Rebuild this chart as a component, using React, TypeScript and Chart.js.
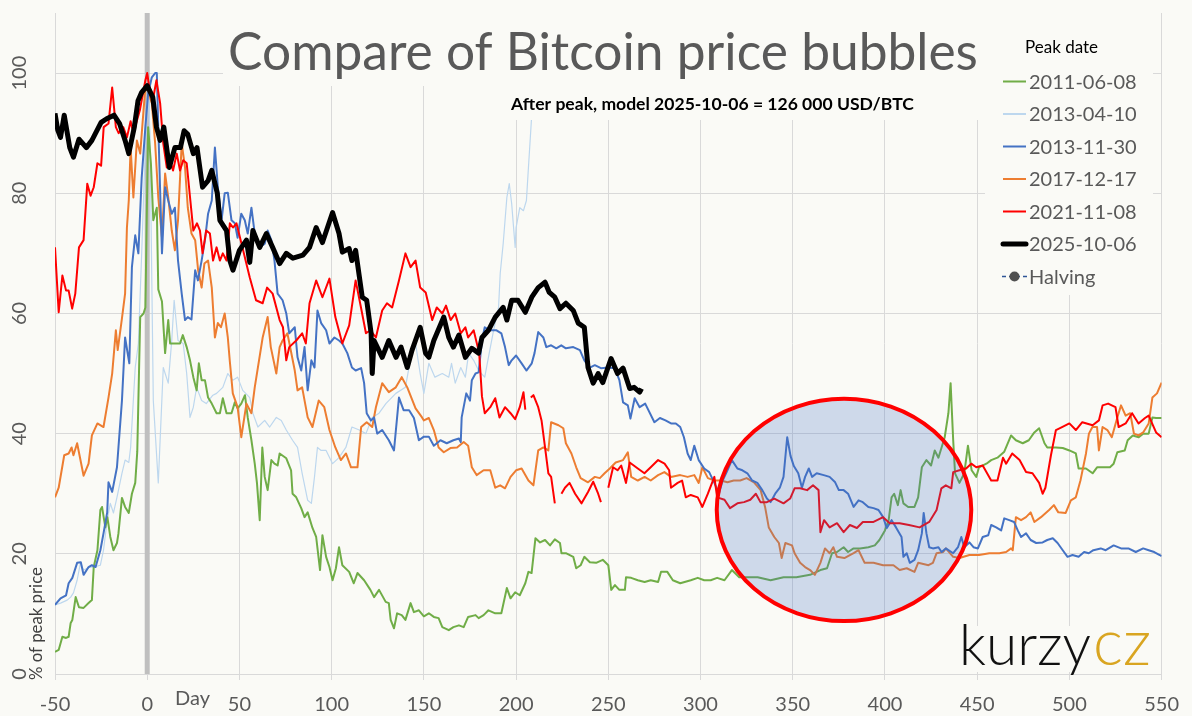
import React, { useEffect, useRef } from 'react';
import { Chart, registerables } from 'chart.js';

Chart.register(...registerables);

type Pt = [number, number | null];

// Peak dates of the bubbles, in legend order
const peakDates = ['2011-06-08', '2013-04-10', '2013-11-30', '2017-12-17', '2021-11-08', '2025-10-06'];
const seriesColors = ['#70ad47', '#bdd7ee', '#4472c4', '#ed7d31', '#ff0000', '#000000'];
const seriesWidths = [2, 1.2, 2, 2, 2, 5];
const seriesOrder = [4, 5, 2, 3, 1, 0];

const xTicks = [-50, 0, 50, 100, 150, 200, 250, 300, 350, 400, 450, 500, 550];
const yTicks = [0, 20, 40, 60, 80, 100];

// grey bar at the day of the peak
const peakMarker: Pt[] = [[0, 0], [0, 110]];

// highlighted zone: [day, % of peak], radius in days, radius in %
const zoneCenter = [377.8, 27.3];
const zoneRadius = [69, 18.5];

const bubble2011: Pt[] = [
  [-50, 3.7], [-48, 4], [-46, 6.2], [-44, 6], [-42.6, 6.2], [-41.5, 8.5], [-40.6, 9], [-38.8, 12.8], [-37, 11.1], [-34.5, 11],
  [-31.8, 11.8], [-30, 12.3], [-29, 17.8], [-27, 20.6], [-25.4, 27.3], [-24.5, 27.8], [-22.7, 24.4], [-21.6, 26.1], [-20, 22.8],
  [-18.3, 20.6], [-16.4, 21.8], [-15.6, 23.4], [-13.7, 29.3], [-12, 27.8], [-10, 26.8], [-8.3, 30], [-6.5, 31.8], [-5.4, 37],
  [-3.8, 59.4], [-2, 60], [-1, 61], [0.5, 91], [2, 85], [3.3, 75.5], [5.2, 77.6], [6, 64], [8, 62], [9.7, 53.4], [11.4, 58.9],
  [12.4, 55], [17.8, 55], [19.3, 56.4], [21.4, 54.4], [23.2, 52.2], [25, 49.4], [26.8, 47.2], [28, 51.7], [29.5, 48.9],
  [31.3, 48.9], [33, 46], [35, 45], [37.6, 43.4], [39.4, 43.4], [41, 45.9], [43, 43.4], [45.7, 43.4], [47.5, 45.2], [49, 44.2],
  [51, 45], [53, 46.4], [54.5, 42.7], [56.5, 38.9], [58.3, 35], [59.5, 31.8], [61, 25.6], [62.4, 37.7], [63.7, 32.8],
  [65.3, 30.6], [67.3, 35.6], [69, 35], [70.7, 34.7], [71.8, 36.7], [75.4, 35.9], [78, 33.9], [78.8, 30], [80.8, 29.4],
  [83.5, 27.6], [85.3, 26.1], [87, 26.9], [89.6, 24.3], [91.6, 22.8], [93.7, 17.3], [95, 23.1], [97, 19.5], [98.8, 17.8],
  [100.5, 15.6], [102.3, 17.6], [104, 21.1], [105.8, 18.1], [109.5, 17], [112, 15.1], [114, 16.8], [117.6, 15.6], [121, 14],
  [123, 12.8], [125.7, 14], [129.3, 12], [131, 11.8], [132, 9], [133.8, 7.6], [135.5, 10.1], [138, 9.8], [140, 9],
  [142.8, 11.8], [144.6, 10.3], [147.3, 10.6], [150, 9.6], [152.7, 10.1], [155.4, 9.5], [158, 9.3], [160, 7.8], [163.5, 7.3],
  [166, 7.8], [169, 8.1], [171.6, 7.8], [174, 9.5], [178, 9.8], [179.7, 9.3], [182.4, 9.8], [185, 10.6], [188.7, 10.1],
  [192, 10.1], [195, 14.3], [197, 12.6], [199.5, 13.6], [202, 13.1], [205, 15.1], [206.7, 17], [208.4, 16.8], [210.5, 22.6],
  [213, 21.9], [215.7, 22.3], [218.4, 21.4], [221, 22.4], [223.8, 21.8], [224.6, 20.1], [227, 20.1], [231, 19.5],
  [232.6, 17.6], [235, 18.1], [237, 19.5], [240, 18.6], [243.4, 18.5], [247, 19], [250, 18.1], [251.6, 14], [253.6, 14.8],
  [256, 14], [259, 14], [259.6, 16.1], [262.4, 16], [266, 15.6], [269.7, 15.3], [273, 15.6], [277, 15.3], [278.6, 17],
  [282, 17], [285, 15.6], [289, 15.1], [294.7, 15.6], [298.5, 16], [302, 15.6], [305.5, 15.6], [309, 16], [313, 15.6],
  [317, 17.3], [321, 16.1], [325, 16.1], [331, 16.1], [338, 15.6], [345, 16.1], [352, 16.1], [359.4, 16.5], [365, 17.3],
  [368.6, 17.6], [371.3, 20.1], [374, 20.3], [377.6, 21.1], [380, 20.3], [383, 20.9], [386.5, 20.9], [391, 21.1],
  [394.5, 21.4], [397, 22.3], [400, 23.9], [402, 25.6], [403.6, 29.4], [405, 30], [407, 28.1], [408.5, 30.6], [410, 28.4],
  [412.6, 27.8], [416, 27.8], [418, 29.4], [420, 34.4], [422.5, 35.6], [425, 34.7], [427, 37.2], [429, 36], [430.7, 37.7],
  [432.4, 39.4], [434.4, 43.4], [435.6, 48.4], [437, 38.9], [438, 33.4], [440.4, 31.8], [443, 33.4], [445, 38], [447, 33.9],
  [449.5, 32.8], [451, 34.4], [455, 35], [457.6, 35.6], [461, 36], [464.7, 37], [468.4, 39.7], [471, 38.9], [474.7, 38.4],
  [478, 38.9], [481, 40.2], [483.6, 40.9], [486.5, 38.4], [488, 37.7], [492.7, 37.7], [496.4, 37.6], [500, 37.2],
  [503.5, 36.7], [505, 34.2], [509, 34.2], [512.6, 33.4], [515, 34.4], [518.6, 34.4], [522, 34.4], [524, 35], [526, 36.9],
  [530, 37.2], [531.6, 38.9], [534.4, 39.7], [537.6, 39.4], [540, 40], [543, 40], [545, 42.7], [547, 42.6], [550, 42.6],
];

const bubble2013a: Pt[] = [
  [-50, 11.5], [-47, 11.8], [-43.4, 12.3], [-41.5, 12.8], [-40, 13.5], [-38, 15.6], [-36.2, 18.5], [-34.5, 17.3],
  [-30.8, 17.8], [-29, 17.8], [-25.4, 18.1], [-23.7, 20.6], [-21.7, 25.6], [-20, 28.4], [-18.3, 26.8], [-16.4, 29.4],
  [-13.7, 33.4], [-12, 35.6], [-10, 35.2], [-9, 37.7], [-6.5, 51], [-4.8, 55], [-3, 70], [-1, 88], [0.5, 97], [1.5, 90],
  [3.3, 45.5], [6, 31.8], [8.7, 51], [11.4, 48.4], [13.3, 55.5], [14.6, 62.2], [16.7, 55.5], [19.5, 55], [21.4, 50],
  [23.2, 42.7], [25, 44.4], [26.8, 47.7], [29.5, 45.5], [32, 45], [35.6, 46.4], [37.6, 46.7], [41, 47.7], [43.7, 50],
  [46.4, 48.9], [49, 49.4], [51.8, 47.2], [55.6, 46], [57.3, 43.4], [60, 41.1], [63.7, 42.2], [66.4, 41.1], [70, 42.7],
  [72.7, 42.2], [75.4, 40.6], [78.8, 38.9], [81.5, 37.7], [84, 33.4], [87, 28.9], [89, 28.4], [90.7, 32.8], [92.3, 37.7],
  [94.3, 37.2], [97, 37.2], [100.5, 35], [104, 36], [107.7, 37.7], [111, 41.1], [115, 40.6], [118.6, 40], [122, 42.7],
  [125.7, 43.4], [129.4, 45], [134.8, 46.7], [140, 47.7], [143.6, 53.9], [145.5, 55], [148, 50], [150, 46.7], [152.7, 51.7],
  [156, 49.4], [160, 50], [163.5, 49.4], [165, 51.7], [167, 48.4], [170, 51], [172.5, 49.4], [174.3, 53.4], [177, 52.2],
  [179.7, 50.5], [183, 49.4], [185, 52.7], [187.8, 57.2], [190.5, 61], [191.4, 66.7], [193, 71.6], [195, 79.3],
  [196.3, 81.6], [197.6, 78.3], [199.5, 71], [200, 74.3], [202, 77.6], [204, 77.1], [205.6, 78.8], [206.7, 84.3],
  [208.3, 92.1], [210, 104], [212, 115],
];

const bubble2013b: Pt[] = [
  [-50, 11.5], [-47, 12.6], [-44, 13.1], [-42.6, 15.1], [-40.6, 16], [-38, 18.5], [-36, 18.6], [-34.5, 16.5], [-31.8, 17.8],
  [-30, 18.1], [-28, 17.8], [-25.4, 20.6], [-23.7, 23.4], [-21.7, 26.9], [-21, 31.9], [-19, 30.3], [-16.4, 34.4],
  [-15.6, 37.7], [-13.7, 45.5], [-12, 56], [-9.7, 51.7], [-8.3, 67.7], [-6.5, 73], [-4.8, 70], [-3, 82.6], [-1, 91],
  [0.5, 96.6], [2.5, 99.3], [4.3, 100], [5.2, 100], [6, 91], [8, 70], [9.7, 81], [11.4, 78.8], [13.3, 76.6], [15, 77.6],
  [16.7, 68.8], [18.7, 63.3], [20.5, 58.9], [22, 59.4], [24, 59], [26, 67.2], [27.5, 65.5], [29.5, 68.8], [31.3, 72.2],
  [33, 76.6], [35, 78.8], [36.7, 87.6], [38.3, 81], [40.3, 75.5], [42, 80], [43.7, 80.1], [45.7, 75.5], [47.5, 75],
  [49, 72.6], [51, 76.6], [52.9, 75.5], [54.5, 73.3], [56.5, 77.6], [58.3, 73.3], [61, 71], [63.7, 71.6], [65.3, 73.8],
  [67.3, 72.2], [69, 68.8], [70.7, 63.3], [73.4, 62.2], [75.4, 60], [77, 56.7], [80, 57.7], [81.5, 52.7], [83.5, 50.5],
  [85.3, 54.4], [87, 47.2], [89, 52.2], [90.7, 51], [92.3, 60.5], [94.3, 58.4], [97, 57.2], [98.8, 55], [101.5, 56],
  [104, 55.5], [105.8, 55], [108.5, 53.4], [111, 51], [113, 50.5], [116, 50.9], [117.6, 48.4], [119, 43.4], [121.3, 42.2],
  [123, 42.7], [124.7, 40], [127.4, 40.6], [131, 38.9], [133.8, 37.2], [136.5, 46], [139, 43.9], [142, 43.9], [144.6, 42.6],
  [147.3, 38.9], [150, 39.5], [152.7, 39.5], [155.4, 38], [159, 38.9], [162.4, 38.4], [166, 38.9], [169, 39.2], [170, 38.6],
  [170.5, 42.7], [173, 46.7], [175, 45.5], [176, 48.9], [178, 50], [179.7, 50.2], [181.5, 55.5], [183, 57.7], [186, 57.2],
  [189.4, 57.2], [192, 56.7], [194, 54.4], [196, 51.4], [197.6, 52.2], [200, 53], [203, 51.7], [205.6, 50.5], [208.5, 51.7],
  [210, 53.4], [212, 56.9], [214.8, 56], [216.4, 54.4], [219, 54.7], [221.8, 54.2], [224.5, 54.7], [227, 54.2], [231, 54.4],
  [234.6, 53.9], [237, 52.2], [240, 51], [242.7, 51.4], [246, 50.9], [250, 51], [253.5, 50.9], [256, 48.9], [258, 45.2],
  [260.6, 44.7], [262, 42.5], [264.3, 45.9], [267, 44.4], [270, 45], [275, 41.9], [278, 42.6], [281, 42.2], [284, 41.7],
  [286.6, 41.7], [289, 41.1], [291, 39.4], [293, 36.7], [294.7, 35.6], [296.6, 38], [299, 35.6], [302, 34.2], [304.7, 33.6],
  [307.5, 31.8], [310, 30], [312, 32.2], [314.6, 33.9], [317, 35.6], [320, 34.2], [322.7, 33.9], [325.4, 33.4], [328, 32.2],
  [330.8, 31.8], [333.5, 30.6], [336, 29.2], [338, 28.6], [340.5, 30], [343, 31], [345, 32.8], [347, 39.4], [348.8, 36.3],
  [350.6, 34.6], [353, 33.4], [355, 31], [356.7, 32.8], [358.7, 34.2], [360.5, 32.8], [363, 33.4], [366.8, 33.1], [370, 32.8],
  [373, 31.9], [375, 30.6], [377.6, 30.6], [380, 30], [383, 27.8], [385.7, 28.9], [388, 28.6], [391, 27.8], [393.8, 27.6],
  [396.5, 27.3], [399, 26.1], [401, 24.3], [403.6, 25.6], [406, 24.4], [409, 22.8], [410, 19.5], [411.8, 20.1], [413.5, 18.5],
  [416, 19], [418, 20.6], [420, 23.4], [421, 26.8], [422.5, 23.4], [424, 21.1], [426, 20.9], [429, 21.1], [430.7, 20.3],
  [433, 20.9], [437, 20.1], [439.6, 21.1], [441.4, 22.8], [443, 21.1], [445.8, 21.9], [448, 21.1], [450.4, 20.9], [453, 22.8],
  [456, 23.1], [457.6, 24.8], [460.3, 24.4], [463, 23.9], [464.7, 25.9], [467.4, 25.6], [470, 25.3], [472, 23.9],
  [473.8, 22.8], [476.5, 23.4], [479, 22.3], [482, 21.8], [485.5, 21.9], [488, 22.3], [491, 22.6], [493.6, 21.8],
  [496.4, 20.6], [499, 19.5], [501.7, 19.8], [505, 19.5], [508, 20.3], [510.5, 20.1], [513, 20.6], [517, 20.9],
  [519.7, 20.6], [524, 21.4], [528, 20.9], [532, 20.9], [536, 20.3], [540, 20.9], [543, 20.6], [546, 20.3], [549, 19.8],
  [550, 19.6],
];

const bubble2017: Pt[] = [
  [-50, 29.4], [-48, 31], [-45, 36.4], [-42.6, 36.7], [-41, 37.7], [-40, 36.4], [-38, 38.4], [-34.5, 33], [-31.8, 35],
  [-30, 39.7], [-27, 41.7], [-23.7, 41.1], [-21, 46], [-19, 50], [-17, 57.2], [-16, 53.9], [-13.7, 59.2], [-12, 63.3],
  [-11, 74.3], [-10, 78.8], [-9, 87.6], [-7.5, 79.3], [-5.6, 88.8], [-3.8, 86.6], [-2, 93.8], [-1, 97.6], [0.5, 97],
  [2.5, 95], [4.3, 88.3], [6, 79.3], [8, 72.6], [9.7, 83.3], [11.4, 79.3], [13.3, 73.8], [15, 70.5], [16.7, 75.5],
  [18.7, 88.3], [20.5, 84.3], [22, 77.6], [24, 73.3], [26, 72.2], [27.6, 67.2], [29.5, 64.3], [31, 68.3], [33, 68.8],
  [35, 64.3], [36.7, 56], [38.3, 58.4], [40, 57.7], [42, 60], [43.7, 56], [44.8, 52], [46.4, 46.7], [49, 44.4], [51, 39.4],
  [53.8, 45], [56.5, 43.4], [58.3, 47.7], [60, 51], [62.6, 56], [65.3, 59.4], [67, 54.4], [70, 50], [71.8, 54.4],
  [73.4, 55.5], [76, 56.7], [80, 50.5], [81.5, 47.2], [84, 47.7], [87, 42.7], [89.6, 41.1], [93, 45.5], [96, 44.4],
  [98.8, 40.6], [102, 37.7], [105, 35.6], [107.8, 36.7], [110.5, 34.4], [114, 34.4], [116, 41.1], [119, 41.9], [122, 41.1],
  [124, 44.4], [127.4, 48.4], [131, 46.9], [134.8, 47.7], [138, 49.4], [141, 47.7], [145.5, 44.2], [149, 42.7], [150, 42.2],
  [152.7, 42.6], [155.4, 40.6], [158, 37.7], [160.8, 36.9], [164.4, 37.6], [168, 37.7], [171.6, 38.6], [174, 38], [176, 34.4],
  [178.6, 33.1], [182.4, 33.9], [186, 33.9], [188.7, 31], [191.4, 31.4], [194, 30.9], [197, 32.8], [200, 33.9], [203, 34.2],
  [206.7, 32.2], [209.4, 31.4], [212, 37.2], [214.8, 37.7], [217.5, 37.2], [219, 41.9], [223, 41.4], [225.6, 40.9],
  [227, 38.4], [230, 36.7], [232.6, 34.4], [235, 32.6], [239, 31.9], [242.7, 32.8], [245.4, 32.6], [248, 33.4],
  [250.8, 34.2], [254, 35.2], [258, 35.6], [260.6, 36.9], [262.4, 32.8], [266, 32.2], [269.7, 32.8], [273, 32.2], [277, 33.1],
  [280.4, 33.6], [284, 32.8], [289, 33.1], [293, 32.8], [296.6, 33.1], [299, 31.8], [301, 34.4], [304, 32.6], [307.5, 32.2],
  [311, 32.2], [314.6, 31.9], [318, 32.2], [321.5, 32.2], [325, 32.6], [329, 31.9], [332.6, 30.6], [335, 27.8], [337, 24.4],
  [340, 22.8], [342.5, 21.8], [344, 19.3], [346, 21.8], [349.6, 21.4], [351, 20.1], [354, 18.5], [356.7, 17.8],
  [359.4, 17.3], [362, 16.5], [365, 18.5], [367.5, 20.9], [370, 20.1], [372, 21.1], [374, 19.5], [378, 19.3], [383, 20.1],
  [385.7, 20.6], [389, 18.5], [393.8, 18.5], [399, 18.1], [404.6, 18.1], [408, 17.3], [411.8, 17.6], [416, 17], [418, 18.5],
  [423.6, 18.1], [426, 18.5], [428, 20.1], [431.6, 20.3], [433, 20.9], [437, 19.5], [440.4, 19.3], [445.8, 19.8],
  [451, 19.8], [456.6, 20.1], [462, 20.1], [465.7, 20.3], [468.4, 20.9], [469.3, 20.6], [471, 26.1], [473.8, 25.6],
  [476.5, 26.1], [479, 26.9], [481, 25.3], [484.6, 26.1], [489, 27.3], [491.6, 28.1], [494, 26.9], [498, 26.8],
  [500.8, 28.9], [503.5, 29.4], [506, 32.2], [509, 36.7], [510.6, 40], [512.5, 41.1], [515, 41.1], [516, 37.2], [518, 41.1],
  [520.6, 40.6], [523, 39.4], [526, 42.7], [528, 44.7], [530.5, 43], [533, 43.4], [535, 40], [537.5, 39.7], [540, 40.2],
  [543, 41.7], [545, 46], [547.5, 46.7], [550, 48.5],
];

const bubble2021: Pt[] = [
  [-50, 71], [-48, 60.2], [-46, 66.3], [-44, 63.8], [-42.6, 63.8], [-40.7, 60.8], [-39, 63.3], [-37, 71], [-34.5, 72.2],
  [-32.5, 81.6], [-30.7, 79.6], [-29, 81], [-27, 85], [-25, 84.6], [-23.6, 91], [-21, 91.6], [-19, 97.6], [-17, 91],
  [-15.5, 90], [-13, 91], [-11, 89.3], [-9, 92], [-7.5, 90], [-4, 93.8], [-1, 98.8], [0, 100], [1.6, 96.6], [3, 95.4],
  [5, 98.8], [7, 95], [8.7, 88.3], [10.6, 84.3], [12.4, 85.5], [14, 83.8], [16, 86.6], [17.8, 83.8], [19.5, 85.5],
  [21.4, 85], [23, 80], [25, 73.8], [27, 75], [28.6, 73.8], [30, 70], [32, 73.8], [34, 73.3], [35.7, 68.8], [37.6, 71],
  [39.4, 68.8], [41, 70], [43, 68.8], [44.8, 75], [46.5, 74.3], [48.4, 75], [52, 70.5], [55.6, 66], [59, 62.2], [62.6, 61.7],
  [65, 64.3], [68, 63.3], [71.8, 58.9], [73.6, 57.7], [75.4, 52.2], [77, 54.4], [80.8, 55.5], [84, 56.7], [86, 55],
  [88, 61.7], [91.6, 65.5], [95, 62.7], [98.8, 65.8], [102, 59.4], [105.8, 55], [109.5, 58], [113, 65.5], [115.9, 61],
  [118.6, 56.7], [121, 57.2], [124, 56], [127.4, 60.5], [130, 61.7], [132.8, 61], [136.5, 65.5], [140, 70], [142.8, 67.7],
  [145.5, 68.8], [148, 64.3], [151, 63.5], [154.5, 58.9], [157, 61], [160, 60], [162, 61.3], [164.5, 58.9], [167, 60],
  [170, 56.7], [172.5, 57.7], [174, 56], [177, 57.2], [180, 53.4], [181.5, 46.2], [183, 43.4], [186, 44.4], [188.7, 45.9],
  [191, 42.7], [194, 44.4], [197, 43.4], [199.5, 42.4], [202, 44.4], [204, 46.9], [205, 44], [205.5, null], [208, 46],
  [209.4, 46.4], [212, 44.4], [213.8, 42.2], [215.7, 37.7], [217.5, 33.4], [219, 32.8], [221, 28.4], [222, null],
  [224.6, 30], [226.5, 31], [229, 31.8], [232, 30], [235.5, 28.4], [239, 30.3], [241.8, 32], [244.5, 30], [246, 28.6],
  [247.5, null], [250, 31], [252.6, 34.4], [255, 33.9], [257, 34.7], [259.6, 31.8], [261.6, 35.2], [266, 34.2],
  [269.6, 33.4], [273, 34.4], [277, 35.6], [280.5, 35], [283, 33.9], [284, 31], [287.6, 31.8], [290, 32.2], [292, 29.4],
  [294.7, 29.8], [298.5, 29.4], [301, 27.8], [304, 30], [307.5, 32.8], [309, 29.4], [313, 29], [316, 27.6], [320, 28.4],
  [323.6, 28.6], [327, 29], [330, 30], [332.5, 28.6], [336, 28.6], [340, 29.2], [345, 28.4], [348.6, 29.2], [351, 30.9],
  [354, 30.9], [357.8, 30.6], [361, 31.4], [364, 30.6], [365, 23.6], [367, 25.6], [370, 24.4], [374, 25.1], [377.6, 23.6],
  [381, 24.8], [384.8, 24.3], [388, 25.3], [393.8, 25.3], [399, 26.1], [402.6, 25.1], [408, 25.1], [413, 24.8],
  [418.8, 24.4], [424, 25.3], [428, 27.3], [430.6, 30.9], [433, 31.4], [436, 30.9], [437, 33.6], [440.4, 33.9], [444, 34.2],
  [446.8, 35], [449.5, 34.4], [453, 34.7], [455, 33.6], [457.6, 32.2], [461, 32.2], [464, 36], [465.7, 35], [469, 36.7],
  [473, 35.6], [476.5, 33.6], [480, 33.4], [483.6, 31.8], [485.5, 30], [487, 31], [490, 36.4], [492.7, 40.6], [496, 41.1],
  [500, 41.7], [503.5, 40.6], [507, 41.9], [512.6, 41.4], [516, 42.2], [518, 44.7], [521, 45], [525, 44.4], [526.7, 41.1],
  [530.5, 41.7], [534, 43.4], [537.5, 41.7], [541, 42.6], [543, 43], [547, 40.2], [550, 39.4],
];

const bubble2025: Pt[] = [
  [-50, 93.3], [-48.5, 90.5], [-47, 89.3], [-45, 93], [-42, 87.6], [-40, 86], [-37, 89], [-33, 87.6], [-30, 88.8],
  [-25, 91.8], [-22, 92.4], [-18, 93], [-15, 91.6], [-12, 88.8], [-10, 86.6], [-7, 91], [-5, 95.4], [-3, 96.8], [0, 97.9],
  [3, 96], [5, 91], [7, 88.8], [9, 91], [12, 84.3], [15, 87.6], [18, 87.6], [20, 90.4], [22, 89.8], [25, 86.6], [27, 87.6],
  [30, 81], [33, 82.1], [35, 83.8], [38, 80], [39.4, 75.5], [43, 73.8], [44.8, 68.8], [46.5, 67.2], [50, 70.5],
  [53.8, 72.2], [55.6, 68.5], [57.3, 73.8], [61, 71], [64.6, 73.3], [68, 71], [71.8, 68.3], [75.4, 70], [79, 69.2],
  [84.4, 69.7], [88, 71], [91.6, 74.3], [95, 71.8], [100.5, 76.8], [104, 73.3], [105.8, 70.2], [109.5, 70.8], [111, 68.8],
  [113, 70.5], [116.6, 62.7], [119, 62.2], [121.4, 56.7], [122, 50], [123, 55.5], [127.4, 52.7], [131, 55.5], [134.9, 52.7],
  [137.6, 54.4], [141, 51], [143.6, 53.9], [148, 57.7], [150.9, 53.4], [152.7, 52.7], [155.4, 55.5], [160.8, 59.4],
  [163.5, 56], [166, 54.4], [169, 56.4], [172.5, 52.7], [176, 54.2], [179.7, 53.4], [181.5, 56], [185, 57.2], [188.7, 59.4],
  [193, 61], [195, 58.9], [197.6, 62.2], [201, 62.2], [205, 60.2], [208.5, 62.7], [212, 64.3], [215.7, 65.2], [218, 63.5],
  [221, 62.7], [223.8, 60.8], [227, 61.7], [231, 60.5], [233.7, 58.4], [237, 57.7], [239, 51], [241.8, 48.4], [244.5, 50],
  [247, 48.5], [251.5, 52.5], [255, 50], [258, 50.9], [261.6, 47.5], [264, 47.7], [267, 46.9], [268, 47.5],
];

const seriesData = [bubble2011, bubble2013a, bubble2013b, bubble2017, bubble2021, bubble2025];

const BG = '#fafaf6';
const TEXT = '#595959';
const GRID = '#d9d9d9';

function fitSize(ctx: CanvasRenderingContext2D, text: string, weight: string, family: string, width: number) {
  ctx.font = `${weight} 100px ${family}`;
  return (100 * width) / ctx.measureText(text).width;
}

const decorPlugin = {
  id: 'decor',
  afterDatasetsDraw(chart: any) {
    const { ctx, scales } = chart;
    const x = scales.x;
    const y = scales.y;
    const cx = x.getPixelForValue(zoneCenter[0]);
    const cy = y.getPixelForValue(zoneCenter[1]);
    const rx = x.getPixelForValue(zoneCenter[0] + zoneRadius[0]) - cx;
    const ry = cy - y.getPixelForValue(zoneCenter[1] + zoneRadius[1]);
    ctx.save();
    ctx.beginPath();
    ctx.ellipse(cx, cy, rx, ry, 0, 0, Math.PI * 2);
    ctx.fillStyle = 'rgba(68, 114, 196, 0.24)';
    ctx.fill();
    ctx.lineWidth = 4;
    ctx.strokeStyle = '#ff0000';
    ctx.stroke();
    ctx.restore();
  },
  afterDraw(chart: any) {
    const { ctx, scales } = chart;
    const area = chart.chartArea;
    ctx.save();

    // boxes behind title, subtitle, legend and logo
    ctx.fillStyle = BG;
    ctx.fillRect(223, area.top - 1, 762, 86 - area.top + 1);
    ctx.fillRect(505, 85, 480, 35);
    ctx.fillRect(985, area.top - 1, 168, 296 - area.top);
    ctx.fillRect(955, 626, 200, 46);

    // title
    const title = 'Compare of Bitcoin price bubbles';
    let s = fitSize(ctx, title, '400', 'Lato', 750);
    ctx.font = `400 ${s}px Lato`;
    ctx.fillStyle = TEXT;
    ctx.textAlign = 'center';
    ctx.textBaseline = 'alphabetic';
    ctx.fillText(title, 603, 70);

    const sub = 'After peak, model 2025-10-06 = 126 000 USD/BTC';
    s = fitSize(ctx, sub, '700', 'Lato', 403);
    ctx.font = `700 ${s}px Lato`;
    ctx.fillStyle = '#000000';
    ctx.fillText(sub, 712.5, 110);

    // y tick labels, rotated
    ctx.font = '20px Lato';
    ctx.fillStyle = TEXT;
    ctx.textBaseline = 'middle';
    yTicks.forEach((v) => {
      const py = scales.y.getPixelForValue(v);
      ctx.save();
      ctx.translate(20, py);
      ctx.rotate(-Math.PI / 2);
      ctx.textAlign = 'center';
      ctx.fillText(String(v), 0, 0);
      ctx.restore();
    });

    // axis titles
    ctx.textAlign = 'left';
    ctx.textBaseline = 'alphabetic';
    ctx.font = '20px Lato';
    ctx.fillText('Day', 175, 705);
    const yt = '% of peak price';
    s = fitSize(ctx, yt, '400', 'Lato', 113);
    ctx.save();
    ctx.translate(42, 680);
    ctx.rotate(-Math.PI / 2);
    ctx.font = `400 ${s}px Lato`;
    ctx.fillStyle = '#404040';
    ctx.fillText(yt, 0, 0);
    ctx.restore();

    // legend
    ctx.fillStyle = '#000000';
    ctx.font = '17px Lato';
    ctx.fillText('Peak date', 1025, 53);
    const labels = [...peakDates, 'Halving'];
    labels.forEach((lab, i) => {
      const ly = 81.5 + i * 32.5;
      ctx.save();
      if (i < peakDates.length) {
        ctx.strokeStyle = seriesColors[i];
        ctx.lineWidth = Math.max(seriesWidths[i], 2);
        ctx.lineCap = i === 5 ? 'round' : 'butt';
        ctx.beginPath();
        ctx.moveTo(1003, ly);
        ctx.lineTo(1026, ly);
        ctx.stroke();
      } else {
        ctx.strokeStyle = '#2f5597';
        ctx.lineWidth = 1.5;
        ctx.setLineDash([4, 3]);
        ctx.beginPath();
        ctx.moveTo(1002, ly);
        ctx.lineTo(1027, ly);
        ctx.stroke();
        ctx.setLineDash([]);
        ctx.fillStyle = '#505050';
        ctx.beginPath();
        ctx.arc(1014.5, ly, 5, 0, Math.PI * 2);
        ctx.fill();
      }
      ctx.restore();
      ctx.fillStyle = TEXT;
      ctx.font = '20px Lato';
      ctx.textBaseline = 'middle';
      ctx.fillText(lab, 1029, ly + 1);
      ctx.textBaseline = 'alphabetic';
    });

    // logo
    s = fitSize(ctx, 'kurzy', '300', 'Lato', 132);
    ctx.font = `300 ${s}px Lato`;
    ctx.fillStyle = '#111111';
    ctx.fillText('kurzy', 959, 665);
    s = fitSize(ctx, 'cz', '300', 'Lato', 58);
    ctx.font = `300 ${s}px Lato`;
    ctx.fillStyle = '#d9a521';
    ctx.fillText('cz', 1093, 665);

    ctx.restore();
  },
};

export default function App() {
  const canvasRef = useRef<HTMLCanvasElement>(null);

  useEffect(() => {
    document.body.style.margin = '0';
    document.body.style.background = BG;
    if (!canvasRef.current) return;

    const datasets: any[] = seriesData.map((pts, i) => ({
      label: peakDates[i],
      data: pts.map(([x, y]) => ({ x, y })),
      borderColor: seriesColors[i],
      borderWidth: seriesWidths[i],
      order: seriesOrder[i],
      pointRadius: 0,
      spanGaps: false,
    }));
    datasets.push({
      label: 'peak',
      data: peakMarker.map(([x, y]) => ({ x, y })),
      borderColor: '#bfbfbf',
      borderWidth: 5,
      borderCapStyle: 'butt',
      order: 9,
      pointRadius: 0,
    });

    const chart = new Chart(canvasRef.current, {
      type: 'line',
      data: { datasets },
      options: {
        animation: false,
        responsive: true,
        maintainAspectRatio: false,
        layout: { padding: { top: 13, right: 28, left: 0, bottom: 0 } },
        elements: { line: { tension: 0, borderJoinStyle: 'round' }, point: { radius: 0 } },
        plugins: { legend: { display: false }, tooltip: { enabled: false }, title: { display: false } },
        scales: {
          x: {
            type: 'linear',
            min: -50,
            max: 550,
            afterBuildTicks: (sc: any) => { sc.ticks = xTicks.map((v) => ({ value: v })); },
            afterFit: (sc: any) => { sc.height = 42; },
            grid: { color: GRID, drawTicks: true, tickLength: 6, tickColor: GRID },
            border: { color: GRID },
            ticks: { color: TEXT, font: { family: 'Lato', size: 20 }, padding: 13, maxRotation: 0, autoSkip: false },
          },
          y: {
            type: 'linear',
            min: 0,
            max: 110,
            afterBuildTicks: (sc: any) => { sc.ticks = yTicks.map((v) => ({ value: v })); },
            afterFit: (sc: any) => { sc.width = 55; },
            grid: { color: GRID, drawTicks: false },
            border: { color: GRID },
            ticks: { display: false },
          },
        },
      },
      plugins: [decorPlugin],
    });

    return () => chart.destroy();
  }, []);

  return (
    <div style={{ width: 1192, height: 716, background: BG, position: 'relative' }}>
      <canvas ref={canvasRef}></canvas>
    </div>
  );
}
